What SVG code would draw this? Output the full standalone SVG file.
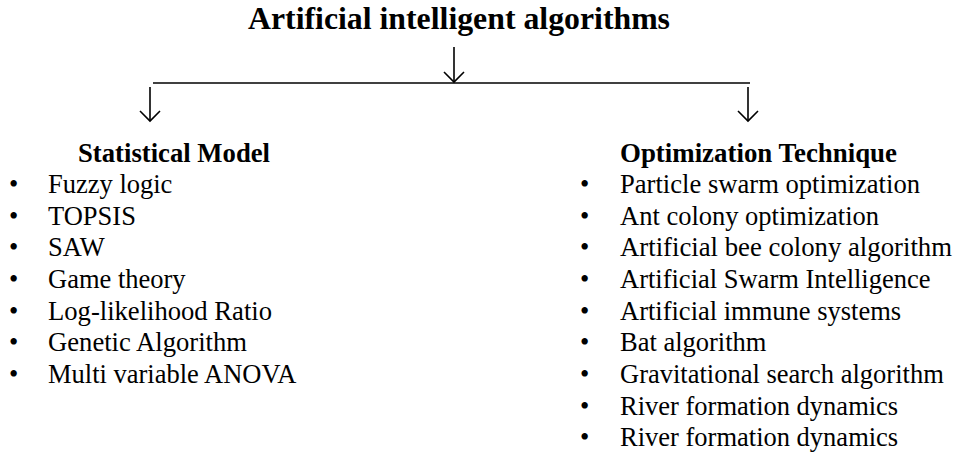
<svg xmlns="http://www.w3.org/2000/svg" width="954" height="457" viewBox="0 0 954 457">
<style>
text{font-family:"Liberation Serif","Times New Roman",serif;fill:#000}
.t{font-size:31px;font-weight:bold}
.h{font-size:26.5px;font-weight:bold}
.i{font-size:26.5px}
.c{stroke:#000;stroke-width:1.6;fill:none}
</style>
<rect width="954" height="457" fill="#fff"/>
<g id="title"><text class="t" x="248" y="29" textLength="422" lengthAdjust="spacingAndGlyphs">Artificial intelligent algorithms</text></g>
<g id="connectors">
<line class="c" x1="454" y1="47" x2="454" y2="82"/>
<path class="c" d="M444,72 L454,82 L464,72"/>
<line class="c" x1="153" y1="83" x2="750" y2="83" stroke-width="1.4"/>
<line class="c" x1="150" y1="87" x2="150" y2="121"/>
<path class="c" d="M140,111 L150,121 L160,111"/>
<line class="c" x1="748" y1="87" x2="748" y2="121"/>
<path class="c" d="M738,111 L748,121 L758,111"/>
</g>
<g id="statistical-model">
<text class="h" x="78" y="162" textLength="192" lengthAdjust="spacingAndGlyphs">Statistical Model</text>
<text class="i" x="9" y="193">•</text><text class="i" x="48" y="193">Fuzzy logic</text>
<text class="i" x="9" y="224.7">•</text><text class="i" x="48" y="224.7">TOPSIS</text>
<text class="i" x="9" y="256.3">•</text><text class="i" x="48" y="256.3">SAW</text>
<text class="i" x="9" y="288">•</text><text class="i" x="48" y="288">Game theory</text>
<text class="i" x="9" y="319.7">•</text><text class="i" x="48" y="319.7" textLength="224" lengthAdjust="spacingAndGlyphs">Log-likelihood Ratio</text>
<text class="i" x="9" y="351.3">•</text><text class="i" x="48" y="351.3" textLength="199" lengthAdjust="spacingAndGlyphs">Genetic Algorithm</text>
<text class="i" x="9" y="383">•</text><text class="i" x="48" y="383">Multi variable ANOVA</text>
</g>
<g id="optimization-technique">
<text class="h" x="620" y="162" textLength="277" lengthAdjust="spacingAndGlyphs">Optimization Technique</text>
<text class="i" x="580" y="193">•</text><text class="i" x="620" y="193" textLength="300" lengthAdjust="spacingAndGlyphs">Particle swarm optimization</text>
<text class="i" x="580" y="224.7">•</text><text class="i" x="620" y="224.7">Ant colony optimization</text>
<text class="i" x="580" y="256.3">•</text><text class="i" x="620" y="256.3" textLength="332" lengthAdjust="spacingAndGlyphs">Artificial bee colony algorithm</text>
<text class="i" x="580" y="288">•</text><text class="i" x="620" y="288">Artificial Swarm Intelligence</text>
<text class="i" x="580" y="319.7">•</text><text class="i" x="620" y="319.7">Artificial immune systems</text>
<text class="i" x="580" y="351.3">•</text><text class="i" x="620" y="351.3">Bat algorithm</text>
<text class="i" x="580" y="383">•</text><text class="i" x="620" y="383">Gravitational search algorithm</text>
<text class="i" x="580" y="414.7">•</text><text class="i" x="620" y="414.7">River formation dynamics</text>
<text class="i" x="580" y="446.3">•</text><text class="i" x="620" y="446.3">River formation dynamics</text>
</g>
</svg>
